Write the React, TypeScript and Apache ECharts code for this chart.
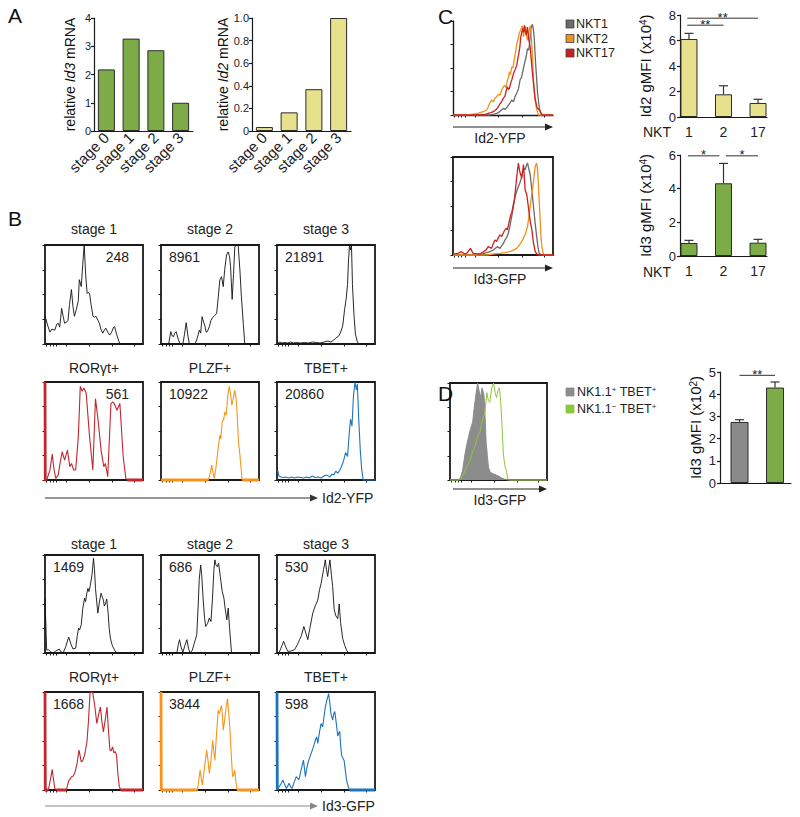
import React, { useEffect, useRef } from 'react';
import * as echarts from 'echarts';

const FONT = 'Arial, "Liberation Sans", Helvetica, sans-serif';

// ---------- Panel A ----------
const stages = ['stage 0', 'stage 1', 'stage 2', 'stage 3'];
const id3Mrna = [2.18, 3.27, 2.86, 1.0];
const id2Mrna = [0.035, 0.165, 0.37, 1.0];

// ---------- Panel B ----------
const stageTitles = ['stage 1', 'stage 2', 'stage 3'];
const subsetTitles = ['RORγt+', 'PLZF+', 'TBET+'];
const id2StageMfi = ['248', '8961', '21891'];
const id2SubsetMfi = ['561', '10922', '20860'];
const id3StageMfi = ['1469', '686', '530'];
const id3SubsetMfi = ['1668', '3844', '598'];

const id2Stage1 = [[0,28],[0.7,28],[3,18],[5,12],[7,15],[10,14],[12,20],[13.5,21],[15,17],[17,36],[18.5,28],[20,21],[22,22],[23.5,24],[25,40],[27,55],[28.5,38],[30,28],[32,35],[34,44],[35,65],[37,58],[38.5,80],[40,100],[41.5,70],[43,51],[44,52],[45.5,51],[47,40],[49,28],[50.5,27],[52,28],[54,24],[55.5,21],[57,15],[59,11],[60.5,14],[62,16],[64,12],[66,9],[68,12],[70,17],[71,17.5],[73,10],[76,1],[78,0],[100,0]];
const id2Stage2 = [[0,0],[7.8,0],[10,12.5],[11.5,8],[12.8,7.4],[14,11],[15.5,12.5],[17.5,5],[19.6,0],[22.3,0],[24,10],[25.7,21.5],[27.5,8],[29,0],[34.8,0],[37,6],[39.2,14],[40.5,11],[41.9,27.6],[43.5,22],[45,17.5],[46,12],[47.3,12.5],[49.3,17.5],[51,24],[53.4,27.6],[55,29],[56.8,31],[58.5,48],[60,64.6],[61.8,68],[63.5,58],[65,75],[66.9,90],[68.6,93],[70,88],[71,78],[72.6,45],[74,70],[75.3,98],[77,100],[78.7,100],[80.5,75],[82,48],[84,20],[85.5,0],[100,0]];
const id2Stage3 = [[0,2],[1,1],[3,2],[5,1],[8,1.5],[11,1],[14,2],[17,1],[20,1.5],[24,1],[28,1.5],[32,1],[36,2],[40,1.5],[44,1],[48,2],[52,3],[55,2],[58,4],[60,6],[63,8],[65,12],[67,18],[69,35],[70.5,45],[72,60],[73,85],[74,100],[75,95],[76,100],[77,60],[78.5,30],[80,10],[82,2],[84,0],[100,0]];
const id2Ror = [[0,100],[0.3,0],[1.7,0],[5,10],[7.4,26.4],[9,12],[11,1.7],[13.5,5],[15.5,18],[17.5,28.8],[20,20.3],[22.9,30.5],[25.3,13.6],[27,16.9],[29.3,10.2],[31.3,10.2],[34,44],[36,95.6],[38,90.5],[39.7,93.9],[42,88.8],[45.5,44],[48.8,10.2],[51.5,83],[54.2,61],[57.2,30.5],[60,13.6],[61.6,16.9],[64,3.4],[67.3,78],[69,79.7],[70.7,78],[73.4,71.2],[76.4,78],[79.8,23.7],[82.5,1.7],[84,0],[100,0]];
const id2Plzf = [[0,0],[48.3,0],[50,6],[51.7,15.3],[53,8],[54.4,1.7],[56,12],[58,30],[60.1,45.8],[61,42],[62.5,59.3],[64,62],[65.2,69.5],[66.5,66],[68,85],[69.6,95.6],[71,88],[72.3,76.3],[73.5,82],[75.3,91.5],[76.5,84],[77,78],[78,62],[79,39],[80.4,27],[81.5,14],[82.8,0],[100,0]];
const id2Tbet = [[0,8],[1,9],[2,4],[4,3],[6,2.5],[9,3],[12,2],[15,3],[18,2],[21,3],[24,2.5],[27,2],[30,3],[33,2],[36,4],[39,2.5],[42,3],[45,2],[48,4],[51,5],[54,3],[56,6],[58,5],[60,9],[62,7],[64,10],[66,14],[68,20],[70,28],[72,24],[73.5,45],[75,62],[76.5,55],[78,85],[79.5,100],[81,92],[82,98],[83.5,60],[85,30],[86.5,10],[88,0],[100,0]];

const id3Stage1 = [[0,56],[0.7,56],[1.7,3],[3.4,3.4],[6,1],[8.4,0],[11,2],[14.5,4],[16.5,1],[18.5,0],[21,6],[24.2,16.3],[26.5,9],[28.6,4],[31.3,5],[33,18],[34.3,25.4],[35.4,23.7],[37,28.8],[38.5,45],[40.4,56],[41.4,52.5],[42.5,60],[43.8,66],[44.8,62.7],[46,67.8],[48,80],[49.5,96.6],[50.5,85],[51.5,66],[53,50],[53.9,40.7],[55.5,52],[57.2,61],[58.5,57],[59.6,54],[60.5,48],[61.6,50],[63,55],[64.5,40],[65.5,25],[66.7,15.3],[68,10],[69,6.8],[71,3],[73,0],[100,0]];
const id3Stage2 = [[0,0],[16.2,0],[17.5,8],[18.9,13.6],[20.5,6],[22.3,0.7],[24.5,8],[26.4,13.6],[28,5],[29.7,0],[32,3],[34,10],[36.5,18.6],[38,50],[39,75],[40.5,89.8],[41.5,80],[43,55],[44.5,35],[45.6,27.1],[47.5,30],[49.3,35.6],[51,32.2],[52.5,55],[54,85],[55,95],[56,90],[57.4,88],[58.8,91.5],[60.5,78],[62.5,62.7],[64.2,56],[65.5,45],[67.2,33.9],[68.6,45.8],[70,25],[72,0],[100,0]];
const id3Stage3 = [[0,0],[2,0],[4,5],[6.8,11.9],[9,6],[11,1.7],[14,2],[18,3.4],[21,9],[23,13.6],[25,18],[27.4,27.1],[29.5,20],[31.4,13.6],[33.5,25],[36.5,40.7],[39,48],[41.6,54],[43.5,65],[45,71],[47.5,85],[49.3,95],[50.5,85],[51.7,78],[53,88],[54,95],[55.5,80],[56.8,67.8],[58.4,44],[60,38],[62,35],[63.5,50],[65,30],[67,15],[69,8],[71,3],[73,0],[100,0]];
const id3Ror = [[0,100],[0.3,0],[3.4,0],[5,8],[7.4,21],[8.5,12],[10,1.7],[11.5,0],[21.9,0],[23,5],[24.6,10.2],[25.5,11],[27,13.6],[28.5,14],[30.3,17],[32.7,27],[34.7,40.7],[35.8,35],[37,28.8],[38.5,30],[40.4,35.6],[42.8,49],[44.4,71],[46,100],[47.5,100],[48.8,99],[50.5,88],[52.9,67.8],[54.9,78],[56.6,84.7],[58,70],[59.6,59.3],[61.5,72],[63.3,84.7],[64.8,60],[66.3,40.7],[67.5,40],[69,44],[70.3,38],[71.7,39],[73,35.6],[74.5,15],[75.8,3.4],[77.4,0],[100,0]];
const id3Plzf = [[0,100],[0.3,0],[37.2,0],[38.5,10],[39.9,20.3],[41,12],[42.2,5],[44,20],[46.6,40.7],[48,30],[49.3,17],[51,30],[52.7,50.8],[54,38],[55,30.5],[56.5,55],[58.4,81.4],[59.2,78],[60.1,79.7],[61,84],[61.8,86.4],[62.7,75],[63.5,61],[65,72],[66.5,85],[67.9,93.2],[69,80],[70.3,62.7],[71.5,40],[73,13.6],[74,15],[75.3,20.3],[76.5,8],[77.7,0],[100,0]];
const id3Tbet = [[0,100],[0.3,0],[2,3],[4,6],[6,10.2],[8,5],[9.5,1.7],[11,4],[12.2,6.8],[14,3],[15.5,1.7],[17.5,8],[19.6,13.6],[21,12],[22.3,10.2],[24.5,20],[27,30.5],[28,22],[29,13.6],[30,20],[31.4,27],[33,32],[34.8,37.3],[36.5,42],[38.2,47.5],[39.5,52],[40.5,54.2],[41.6,47.5],[43.5,60],[45,67.8],[46.6,64.4],[48,75],[49.3,84.7],[51,92],[52.7,98.3],[54,88],[55,78],[56.8,71.2],[58,78],[59,80],[60.5,68],[62,55],[63,58],[64,60],[65,45],[66,35],[67.5,32],[68.5,30],[70,18],[71,10],[72.5,4],[74,0],[100,0]];

// ---------- Panel C ----------
const nktNames = ['NKT1', 'NKT2', 'NKT17'];
const nktPositions = [1, 2, 3];
const nktLabels = ['1', '2', '17'];
const id2Gmfi = [6.12, 1.78, 1.10];
const id2GmfiErr = [0.44, 0.67, 0.29];
const id3Gmfi = [0.77, 4.32, 0.79];
const id3GmfiErr = [0.16, 1.18, 0.2];
const id2Brackets = [[0.95, 2.0, 7.2, 2], [0.95, 3.0, 7.75, 2]];
const id3Brackets = [[0.97, 1.88, 5.95, 1], [2.07, 3.0, 5.95, 1]];

const nkt1Id2 = [[0,0],[36,0],[38.6,0.5],[41,1],[43.6,1.8],[46,3],[48,5],[50.3,7],[52,6],[54.4,8.8],[56.5,12],[58.7,15.9],[60.5,14],[62,19.4],[64,24],[65.5,28],[67.1,37.5],[68.5,40],[69.8,46.3],[71.5,55],[73.2,62.2],[74.5,70.7],[75.8,69],[77,80],[77.9,91.9],[79.5,96.5],[80.5,90],[81.2,83],[82.6,54.8],[84.6,23],[86.6,5.3],[88.9,0],[100,0]];
const nkt2Id2 = [[0,0],[15,0],[16.8,0.5],[20,1],[24,1.5],[27,2.5],[30.2,3.5],[33.6,5.3],[35,8],[36.5,12],[38.6,15.9],[40.5,14],[42,18],[43.6,19.4],[45.5,22],[47,21],[48.7,26.5],[50.3,30],[52,31.8],[53,29],[54.4,37.1],[55.5,40],[56.4,45.9],[57.5,43],[58.7,51.2],[60,50],[61.1,58.3],[62.5,66],[63.8,75.9],[65,80],[66.1,86.6],[67.5,90],[68.8,93.6],[69.6,95],[70.5,83],[71.5,90],[72.5,94.3],[73.5,85],[74.5,79.5],[76,88],[77.2,95],[78.2,85],[79.2,68.9],[80.2,45],[81.2,26.5],[82.2,15],[83.2,8.8],[84.5,3],[85.6,0],[100,0]];
const nkt17Id2 = [[0,0],[28,0],[30.2,0.5],[33,1],[36,2],[38,2.5],[40.3,3.5],[42,5],[43.5,6],[45.3,8.8],[47,12],[48.5,14],[50.3,17.7],[52,20],[53,25],[54.4,30],[55.5,27],[56.4,28.3],[58,35],[59,38],[60.4,43.8],[62,48],[63.8,53],[64.8,60],[65.8,65.4],[66.8,72],[67.8,83],[68.8,88],[69.8,91.9],[70.6,88],[71.5,95.4],[72.3,90],[73.2,84.8],[74,90],[74.5,93.6],[75.8,80],[77.2,72.4],[78.8,52],[80.5,33.6],[82,18],[83.9,8.8],[85.5,6],[86.6,5.3],[88,2],[89.3,0],[100,0]];
const nkt1Id3 = [[0,0],[21.8,0],[26,1],[30,1.5],[33.6,2.4],[37,3.5],[40.3,5.1],[42.5,7],[44.3,8.5],[47,6.8],[49,10],[50.5,12],[52,15.4],[53.8,18],[55.4,22.2],[57,30],[58.7,39.2],[60.5,50],[62.1,59.7],[63.8,65],[65.4,70],[67,74],[68.8,80.2],[70.5,88.7],[72.1,87],[73.3,91],[74.5,93.9],[75.8,88],[77.2,81.9],[79,65],[80.5,49.5],[82.2,32],[83.9,17],[85,8],[86.2,1.7],[88.3,0],[100,0]];
const nkt2Id3 = [[0,0],[33.6,0],[40,1],[47,1.7],[52,2.5],[57,3.4],[60.5,5],[63.8,6.8],[67,11],[70.5,17],[72.5,22],[74.5,29],[76,40],[77.2,49.5],[78.5,60],[79.9,70],[81,80],[82.2,90.4],[83.6,93.9],[84.4,88],[85.2,76.8],[86.2,55],[87.2,35.8],[88,18],[88.9,8.5],[90.6,0],[100,0]];
const nkt17Id3 = [[0,1],[5,1.7],[8.4,3.4],[11.7,1],[14,2],[17.4,6.8],[20.1,1.7],[23,1.5],[26.8,1],[30,3],[33,5],[35.2,8.5],[38.6,6.8],[40,11],[41.9,15.4],[43.6,13.7],[45.5,18],[47,20.5],[48.7,18.8],[51,24],[53,27.3],[54.4,25.6],[56,33],[57.7,40.9],[58.7,42.7],[60,50],[61.4,56.3],[62.8,70],[63.8,80.2],[65.4,93.9],[66.3,88],[67.1,83.6],[68.8,78.5],[70.5,92.2],[71.3,80],[72.1,66.6],[73.8,61.4],[75.5,48],[77,36],[78.9,25.6],[80.5,12],[82.2,3.4],[84.6,0],[100,0]];

// ---------- Panel D ----------
const dNames = ['NK1.1{sup|+} TBET{sup|+}', 'NK1.1{sup|−} TBET{sup|+}'];
const dPositions = [1, 2];
const dGmfi = [2.75, 4.3];
const dGmfiErr = [0.1, 0.25];
const dBrackets = [[1, 2, 4.85, 2]];
const nkPosId3 = [[0,0],[9,0],[11,3],[13,10],[15.5,27],[17,35],[19,44],[21,52],[23.4,60],[25,75],[27,90],[28.5,100],[30,92],[31.5,85],[33,95],[35,88],[36,70],[37.2,40],[38.5,25],[39.7,13],[41,9],[43,7],[45.5,6],[48,5],[51,3.5],[53.4,2],[56,1],[60,0],[100,0]];
const nkNegId3 = [[0,0],[10.3,0],[13,4],[15.5,10],[18,15],[20.7,20],[23,28],[26,35],[28.5,45],[31,50],[33.5,62],[36,70],[38,90],[39.5,82],[41,80],[43,95],[45,100],[46.5,90],[48,85],[49.5,92],[51,95],[52.3,80],[53.4,60],[55,27],[56.5,15],[58,10],[59,4],[60,0.7],[62,0],[100,0]];

const RED = '#c1272d', ORANGE = '#f7941d', BLUE = '#1c75bc';
const INK = '#1a1a1a';

function txt(text: string, x: number, y: number, o: any = {}) {
  const align = o.align ?? 'center';
  const va = o.va ?? 'middle';
  return {
    type: 'text', x, y, silent: true, rotation: o.rotation ?? 0,
    style: {
      text, fill: o.color ?? '#222', fontSize: o.size ?? 14, fontFamily: FONT,
      fontStyle: o.italic ? 'italic' : 'normal',
      align, textAlign: align, verticalAlign: va, textVerticalAlign: va,
      rich: o.rich,
    },
  };
}

function arrow(x1: number, x2: number, y: number, color: string) {
  return [
    { type: 'line', silent: true, shape: { x1, y1: y, x2: x2 - 5, y2: y }, style: { stroke: color, lineWidth: 1.2 } },
    { type: 'polygon', silent: true, shape: { points: [[x2, y], [x2 - 8, y - 3.5], [x2 - 8, y + 3.5]] }, style: { fill: color } },
  ];
}

function buildOption() {
  const grid: any[] = [], xAxis: any[] = [], yAxis: any[] = [], series: any[] = [], graphic: any[] = [];
  const line = { color: INK, width: 1.2 };
  const histTicks = [1.7, 5, 8.4, 11.8, 22, 45.5, 69, 91];

  function addHist(l: number, t: number, w: number, h: number, curves: any[], frame = true) {
    const gi = grid.length;
    grid.push({ left: l, top: t, width: w, height: h, show: frame, borderColor: INK, borderWidth: 1.8, backgroundColor: 'rgba(0,0,0,0)', outerBoundsMode: 'none' });
    xAxis.push({ gridIndex: gi, type: 'value', min: 0, max: 100, axisLine: { show: !frame, lineStyle: { color: INK, width: 1.4 } }, axisTick: { show: true, customValues: histTicks, length: 2.5, lineStyle: { color: INK, width: 1 } }, axisLabel: { show: false }, splitLine: { show: false } });
    yAxis.push({ gridIndex: gi, type: 'value', min: 0, max: 100, interval: 25, axisLine: { show: !frame, lineStyle: { color: INK, width: 1.4 } }, axisTick: { show: true, length: 2.5, lineStyle: { color: INK, width: 1 } }, axisLabel: { show: false }, splitLine: { show: false } });
    for (const c of curves) {
      series.push({ type: 'line', xAxisIndex: gi, yAxisIndex: gi, data: c.data, symbol: 'none', clip: false, silent: true, z: c.z ?? 3,
        lineStyle: { color: c.color, width: c.width ?? 1 },
        areaStyle: c.fill ? { color: c.fill, opacity: 1 } : undefined });
      if (c.thick) {
        const thickData = c.data.map((p: number[], i: number) => (p[1] === 0 || i === 0) ? [p[0], p[1]] : [p[0], null]);
        series.push({ type: 'line', xAxisIndex: gi, yAxisIndex: gi, data: thickData, symbol: 'none', clip: false, silent: true, z: 4, connectNulls: false,
          lineStyle: { color: c.color, width: 2.8 } });
      }
    }
    return gi;
  }

  const errorBars = (gi: number, xs: number[], means: number[], errs: number[]) => ({
    type: 'custom', xAxisIndex: gi, yAxisIndex: gi, silent: true, z: 5,
    data: xs.map((x, i) => [x, means[i], errs[i]]),
    encode: { x: 0, y: 1 },
    renderItem: (_p: any, api: any) => {
      const x = api.value(0), m = api.value(1), e = api.value(2);
      const a = api.coord([x, m]); const b = api.coord([x, m + e]);
      return { type: 'group', children: [
        { type: 'line', shape: { x1: a[0], y1: a[1], x2: b[0], y2: b[1] }, style: { stroke: '#333', lineWidth: 1.2 } },
        { type: 'line', shape: { x1: b[0] - 4.5, y1: b[1], x2: b[0] + 4.5, y2: b[1] }, style: { stroke: '#333', lineWidth: 1.2 } },
      ] };
    },
  });

  const brackets = (gi: number, rows: number[][]) => ({
    type: 'custom', xAxisIndex: gi, yAxisIndex: gi, silent: true, z: 5,
    data: rows, encode: { x: 0, y: 2 },
    renderItem: (_p: any, api: any) => {
      const a = api.coord([api.value(0), api.value(2)]);
      const b = api.coord([api.value(1), api.value(2)]);
      const stars = '*'.repeat(api.value(3));
      return { type: 'group', children: [
        { type: 'line', shape: { x1: a[0], y1: a[1], x2: b[0], y2: a[1] }, style: { stroke: '#333', lineWidth: 1 } },
        { type: 'text', x: (a[0] + b[0]) / 2, y: a[1] - 1, style: { text: stars, fill: '#222', fontSize: 13, fontFamily: FONT, align: 'center', textAlign: 'center', verticalAlign: 'middle', textVerticalAlign: 'middle' } },
      ] };
    },
  });

  const nameStyle = (size: number) => ({ fontSize: size, color: '#111', fontFamily: FONT,
    rich: { i: { fontStyle: 'italic', fontSize: size, color: '#111', fontFamily: FONT }, sup: { fontSize: 10, color: '#111', fontFamily: FONT, verticalAlign: 'top' } } });

  // ---------- A ----------
  const barA = (left: number, values: number[], max: number, interval: number, name: string, gap: number, color: string, fmt: (v: number) => string) => {
    const gi = grid.length;
    grid.push({ left, top: 18, width: 99, height: 113, outerBoundsMode: 'none' });
    xAxis.push({ gridIndex: gi, type: 'category', data: stages, axisLine: { show: true, lineStyle: line }, axisTick: { show: false },
      axisLabel: { rotate: 45, fontSize: 15, color: '#222', margin: 4, interval: 0, fontFamily: FONT } });
    yAxis.push({ gridIndex: gi, type: 'value', min: 0, max, interval, axisLine: { show: true, lineStyle: line }, axisTick: { show: true, length: 3, lineStyle: line },
      axisLabel: { fontSize: 11, color: '#222', margin: 3, fontFamily: FONT, formatter: fmt }, splitLine: { show: false },
      name, nameLocation: 'middle', nameRotate: 90, nameGap: gap, nameTextStyle: nameStyle(14) });
    series.push({ type: 'bar', xAxisIndex: gi, yAxisIndex: gi, data: values, barWidth: 17, silent: true,
      itemStyle: { color, borderColor: '#2b2b2b', borderWidth: 1 } });
  };
  barA(94, id3Mrna, 4, 1, 'relative {i|Id3} mRNA', 17, '#7dab48', (v) => String(v));
  barA(252, id2Mrna, 1, 0.2, 'relative {i|Id2} mRNA', 19, '#e7e08c', (v) => (v === 0 ? '0' : v.toFixed(1)));
  graphic.push(txt('A', 8, 15, { size: 21, align: 'left', color: '#111' }));

  // ---------- B ----------
  const colX = [45, 161, 277];
  const bRows = [
    { top: 245, h: 99, titleY: 229, titles: stageTitles, mfi: id2StageMfi, curves: [id2Stage1, id2Stage2, id2Stage3], colored: false, thick: [false, false, false], rightNum: [true, false, false] },
    { top: 382, h: 98, titleY: 368, titles: subsetTitles, mfi: id2SubsetMfi, curves: [id2Ror, id2Plzf, id2Tbet], colored: true, thick: [true, true, false], rightNum: [true, false, false] },
    { top: 555, h: 98, titleY: 544, titles: stageTitles, mfi: id3StageMfi, curves: [id3Stage1, id3Stage2, id3Stage3], colored: false, thick: [false, false, false], rightNum: [false, false, false] },
    { top: 692, h: 98, titleY: 677, titles: subsetTitles, mfi: id3SubsetMfi, curves: [id3Ror, id3Plzf, id3Tbet], colored: true, thick: [true, true, true], rightNum: [false, false, false] },
  ];
  const subsetColors = [RED, ORANGE, BLUE];
  bRows.forEach((r) => {
    colX.forEach((x, k) => {
      const color = r.colored ? subsetColors[k] : '#111';
      addHist(x, r.top, 98, r.h, [{ data: r.curves[k], color, width: r.colored ? 1.1 : 0.9, thick: r.thick[k] }]);
      graphic.push(txt(r.titles[k], x + 49, r.titleY, { size: 14 }));
      if (r.rightNum[k]) graphic.push(txt(r.mfi[k], x + 84, r.top + 12, { size: 14, align: 'right' }));
      else graphic.push(txt(r.mfi[k], x + 8, r.top + 12, { size: 14, align: 'left' }));
    });
  });
  graphic.push(txt('B', 8, 218, { size: 21, align: 'left', color: '#111' }));
  graphic.push(...arrow(45, 318, 498, '#333'));
  graphic.push(txt('Id2-YFP', 322, 498, { size: 14, align: 'left' }));
  graphic.push(...arrow(45, 318, 806, '#888'));
  graphic.push(txt('Id3-GFP', 322, 806, { size: 14, align: 'left' }));

  // ---------- C ----------
  const nktColors = ['#6a6a6a', '#f0901e', '#cc2020'];
  addHist(453, 21, 100, 94, [
    { data: nkt1Id2, color: nktColors[0], width: 1.3 },
    { data: nkt2Id2, color: nktColors[1], width: 1.3 },
    { data: nkt17Id2, color: nktColors[2], width: 1.3 },
  ], false);
  addHist(453, 157, 100, 98, [
    { data: nkt1Id3, color: nktColors[0], width: 1.3 },
    { data: nkt2Id3, color: nktColors[1], width: 1.3 },
    { data: nkt17Id3, color: nktColors[2], width: 1.3 },
  ], true);
  graphic.push(txt('C', 438, 16, { size: 21, align: 'left', color: '#111' }));
  graphic.push(...arrow(453, 553, 127, '#222'));
  graphic.push(txt('Id2-YFP', 500, 138, { size: 14 }));
  graphic.push(...arrow(453, 553, 268, '#222'));
  graphic.push(txt('Id3-GFP', 500, 279, { size: 14 }));
  nktNames.forEach((n, i) => {
    const y = 24 + i * 14.5;
    graphic.push({ type: 'rect', silent: true, shape: { x: 566, y: y - 4, width: 8, height: 8 }, style: { fill: nktColors[i], stroke: '#444', lineWidth: 0.8 } });
    graphic.push(txt(n, 576, y, { size: 12.5, align: 'left' }));
  });

  const barC = (top: number, height: number, max: number, vals: number[], errs: number[], rows: number[][], color: string, name: string, labelY: number) => {
    const gi = grid.length;
    grid.push({ left: 680, top, width: 87, height, outerBoundsMode: 'none' });
    xAxis.push({ gridIndex: gi, type: 'value', min: 0.74, max: 3.26, axisLine: { show: true, lineStyle: line }, axisTick: { show: false }, splitLine: { show: false },
      axisLabel: { customValues: nktPositions, fontSize: 14, color: '#222', margin: 8, fontFamily: FONT, formatter: (v: number) => nktLabels[Math.round(v) - 1] ?? '' } });
    yAxis.push({ gridIndex: gi, type: 'value', min: 0, max, interval: 2, axisLine: { show: true, lineStyle: line }, axisTick: { show: true, length: 3, lineStyle: line },
      axisLabel: { fontSize: 13, color: '#222', margin: 4, fontFamily: FONT }, splitLine: { show: false },
      name, nameLocation: 'middle', nameRotate: 90, nameGap: 27, nameTextStyle: nameStyle(15) });
    series.push({ type: 'bar', xAxisIndex: gi, yAxisIndex: gi, data: nktPositions.map((p, i) => [p, vals[i]]), barWidth: 17, silent: true,
      itemStyle: { color, borderColor: '#2b2b2b', borderWidth: 1 } });
    series.push(errorBars(gi, nktPositions, vals, errs));
    series.push(brackets(gi, rows));
    graphic.push(txt('NKT', 671, labelY, { size: 14, align: 'right' }));
  };
  barC(15, 102, 8, id2Gmfi, id2GmfiErr, id2Brackets, '#e7e08c', 'Id2 gMFI (x10{sup|4})', 132);
  barC(155, 101, 6, id3Gmfi, id3GmfiErr, id3Brackets, '#7dab48', 'Id3 gMFI (x10{sup|4})', 272);

  // ---------- D ----------
  const dColors = ['#8c8c8c', '#8dc63f'];
  addHist(450, 383, 97, 97, [
    { data: nkPosId3, color: '#8c8c8c', width: 1, fill: '#8c8c8c', z: 2 },
    { data: nkNegId3, color: '#8dc63f', width: 1, z: 3 },
  ], true);
  graphic.push(txt('D', 438, 393, { size: 21, align: 'left', color: '#111' }));
  graphic.push(...arrow(453, 547, 489, '#222'));
  graphic.push(txt('Id3-GFP', 500, 500, { size: 14 }));
  dNames.forEach((n, i) => {
    const y = 392 + i * 17;
    graphic.push({ type: 'rect', silent: true, shape: { x: 566, y: y - 4, width: 8, height: 8 }, style: { fill: dColors[i], stroke: dColors[i], lineWidth: 0.8 } });
    graphic.push(txt(n, 577, y, { size: 12.5, align: 'left', rich: { sup: { fontSize: 8, fontFamily: FONT, fill: '#222', verticalAlign: 'top' } } }));
  });
  {
    const gi = grid.length;
    grid.push({ left: 720, top: 372, width: 71, height: 111, outerBoundsMode: 'none' });
    xAxis.push({ gridIndex: gi, type: 'value', min: 0.45, max: 2.45, axisLine: { show: true, lineStyle: line }, axisTick: { show: false }, axisLabel: { show: false }, splitLine: { show: false } });
    yAxis.push({ gridIndex: gi, type: 'value', min: 0, max: 5, interval: 1, axisLine: { show: true, lineStyle: line }, axisTick: { show: true, length: 3, lineStyle: line },
      axisLabel: { fontSize: 13, color: '#222', margin: 4, fontFamily: FONT }, splitLine: { show: false },
      name: 'Id3 gMFI (x10{sup|2})', nameLocation: 'middle', nameRotate: 90, nameGap: 17, nameTextStyle: nameStyle(15) });
    series.push({ type: 'bar', xAxisIndex: gi, yAxisIndex: gi, barWidth: 18, silent: true,
      data: dPositions.map((p, i) => ({ value: [p, dGmfi[i]], itemStyle: { color: i === 0 ? '#8a8a8a' : '#7dab48', borderColor: '#2b2b2b', borderWidth: 1 } })) });
    series.push(errorBars(gi, dPositions, dGmfi, dGmfiErr));
    series.push(brackets(gi, dBrackets));
  }

  return { animation: false, backgroundColor: '#fff', textStyle: { fontFamily: FONT }, grid, xAxis, yAxis, series, graphic };
}

export default function App() {
  const ref = useRef<HTMLDivElement>(null);
  useEffect(() => {
    document.body.style.margin = '0';
    const chart = echarts.init(ref.current!, undefined, { renderer: 'svg', width: 800, height: 817 });
    chart.setOption(buildOption() as any);
    return () => chart.dispose();
  }, []);
  return <div ref={ref} style={{ width: 800, height: 817, position: 'absolute', left: 0, top: 0, background: '#fff' }} />;
}
